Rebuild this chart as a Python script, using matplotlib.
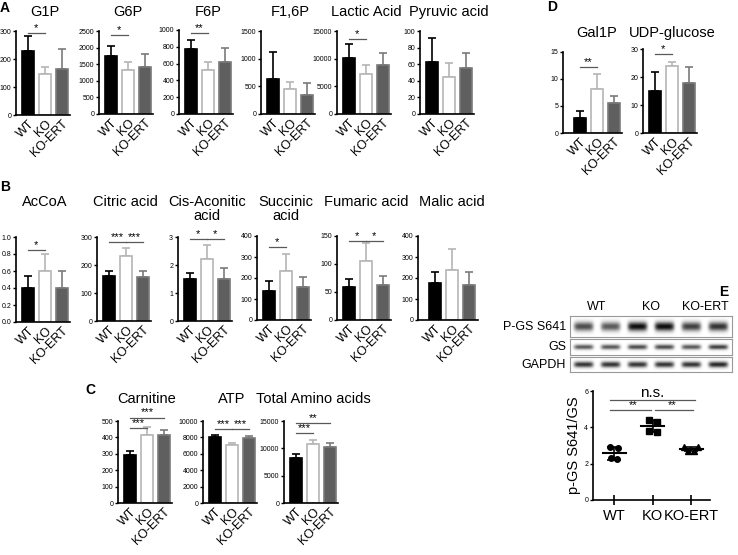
import numpy as np
import matplotlib
matplotlib.use("Agg")
import matplotlib.pyplot as plt
from matplotlib.transforms import blended_transform_factory, ScaledTranslation

plt.rcParams.update({"font.family": ["Liberation Sans", "DejaVu Sans"],
                     "axes.linewidth": 1.2})

W, H = 738, 555

groups = ["WT", "KO", "KO-ERT"]

# ── A: glycolysis ────────────────────────────────────────────────
g1p, g1p_sd = [228, 145, 165], [55, 28, 72]
g6p, g6p_sd = [1760, 1330, 1410], [280, 230, 390]
f6p, f6p_sd = [775, 525, 620], [105, 95, 160]
f16p, f16p_sd = [630, 460, 350], [490, 120, 210]
lactic, lactic_sd = [10200, 7300, 8800], [2500, 1500, 2300]
pyruvic, pyruvic_sd = [63, 45, 55], [28, 17, 18]

# ── B: TCA ───────────────────────────────────────────────────────
accoa, accoa_sd = [0.40, 0.60, 0.40], [0.14, 0.20, 0.20]
citric, citric_sd = [160, 232, 158], [20, 27, 22]
cisacon, cisacon_sd = [1.5, 2.2, 1.5], [0.2, 0.5, 0.4]
succinic, succinic_sd = [140, 232, 155], [45, 83, 52]
fumaric, fumaric_sd = [59, 106, 62], [15, 31, 17]
malic, malic_sd = [175, 240, 167], [52, 100, 60]

# ── C ────────────────────────────────────────────────────────────
carnitine, carnitine_sd = [290, 415, 413], [30, 50, 30]
atp, atp_sd = [8100, 7100, 7900], [250, 250, 250]
amino, amino_sd = [8200, 10800, 10200], [800, 800, 700]

# ── D ────────────────────────────────────────────────────────────
gal1p, gal1p_sd = [2.8, 8.1, 5.5], [1.2, 2.8, 1.3]
udpg, udpg_sd = [15.0, 23.8, 17.9], [6.7, 1.4, 5.8]

# significance brackets: (group a, group b, height, label)
g1p_sig = [(0, 1, 292, "*")]
g6p_sig = [(0, 1, 2390, "*")]
f6p_sig = [(0, 1, 965, "**")]
lactic_sig = [(0, 1, 13600, "*")]
accoa_sig = [(0, 1, 0.85, "*")]
citric_sig = [(0, 1, 281, "***"), (1, 2, 281, "***")]
cisacon_sig = [(0, 1, 2.94, "*"), (1, 2, 2.94, "*")]
succinic_sig = [(0, 1, 348, "*")]
fumaric_sig = [(0, 1, 141, "*"), (1, 2, 141, "*")]
carnitine_sig = [(0, 1, 457, "***"), (0, 2, 521, "***")]
atp_sig = [(0, 1, 8980, "***"), (1, 2, 8980, "***")]
amino_sig = [(0, 1, 12830, "***"), (0, 2, 14700, "**")]
gal1p_sig = [(0, 1, 12.3, "**")]
udpg_sig = [(0, 1, 28.2, "*")]

# ── E: western blot + quantification ────────────────────────────
blot_rows = ["P-GS S641", "GS", "GAPDH"]
pgs_band = [0.70, 0.65, 0.95, 0.95, 0.75, 0.80]
gs_band = [0.65, 0.65, 0.70, 0.70, 0.65, 0.75]
gapdh_band = [0.80, 0.80, 0.80, 0.80, 0.80, 0.85]
e_wt = [2.90, 2.85, 2.30, 2.25]
e_ko = [4.42, 4.27, 3.78, 3.76]
e_ert = [2.90, 2.90, 2.72, 2.72]
e_sig = [(0, 1, 4.96, "**"), (1, 2, 4.96, "**"), (0, 2, 5.52, "n.s.")]

FILL = ["black", "white", "#5f5f5f"]
EDGE = ["black", "#b5b5b5", "#7a7a7a"]
SIGC = "0.35"
PPU = 17  # px per bar slot

fig = plt.figure(figsize=(W / 100, H / 100), dpi=100)


def box(x0, y0, x1, y1):
    return [x0 / W, 1 - y1 / H, (x1 - x0) / W, (y1 - y0) / H]


def bar_panel(x0, yt, yb, vals, sds, yticks, title, ty, sig=(), xl=-0.7, xr=2.5):
    ax = fig.add_axes(box(x0, yt, x0 + (xr - xl) * PPU, yb))
    x = np.arange(3)
    ax.bar(x, vals, width=0.75, color=FILL, edgecolor=EDGE, linewidth=1.2, zorder=2)
    for i in range(3):
        ax.errorbar(x[i], vals[i], yerr=[[0], [sds[i]]], color=EDGE[i],
                    capsize=3, lw=1.2, capthick=1.2, zorder=1)
    for a, b, h, lab in sig:
        ax.plot([a, b], [h, h], color=SIGC, lw=0.9, clip_on=False)
        ax.text((a + b) / 2, h, lab, ha="center", va="bottom", fontsize=8)
    ax.set_xlim(xl, xr)
    ax.set_ylim(0, yticks[-1])
    ax.set_yticks(yticks)
    ax.set_xticks(x)
    ax.set_xticklabels(groups, rotation=45, ha="right", rotation_mode="anchor", fontsize=9)
    ax.tick_params(axis="x", length=0, pad=2)
    ax.tick_params(axis="y", labelsize=5, length=2.5, width=1, pad=1)
    for s in ("top", "right"):
        ax.spines[s].set_visible(False)
    tr = blended_transform_factory(ax.transData, fig.transFigure)
    ax.text(1, 1 - ty / H, title, transform=tr, ha="center", va="center",
            fontsize=10.5, linespacing=1.0)
    return ax


# row A
bar_panel(16, 31, 115, g1p, g1p_sd, [0, 100, 200, 300], "G1P", 12, g1p_sig)
bar_panel(99, 31, 114, g6p, g6p_sd, [0, 500, 1000, 1500, 2000, 2500], "G6P", 12, g6p_sig)
bar_panel(179, 30, 114, f6p, f6p_sd, [0, 200, 400, 600, 800, 1000], "F6P", 12, f6p_sig)
bar_panel(261, 31, 114, f16p, f16p_sd, [0, 500, 1000, 1500], "F1,6P", 12)
bar_panel(337, 31, 114, lactic, lactic_sd, [0, 5000, 10000, 15000], "Lactic Acid", 12, lactic_sig)
bar_panel(420, 31, 114, pyruvic, pyruvic_sd, [0, 20, 40, 60, 80, 100], "Pyruvic acid", 12)

# row B
bar_panel(16, 237, 322, accoa, accoa_sd, [0.0, 0.2, 0.4, 0.6, 0.8, 1.0], "AcCoA", 202, accoa_sig)
bar_panel(97, 237, 321, citric, citric_sd, [0, 100, 200, 300], "Citric acid", 202, citric_sig)
bar_panel(178, 237, 321, cisacon, cisacon_sd, [0, 1, 2, 3], "Cis-Aconitic\nacid", 209.5, cisacon_sig)
bar_panel(257, 236, 320, succinic, succinic_sd, [0, 100, 200, 300, 400], "Succinic\nacid", 209.5, succinic_sig)
bar_panel(337, 236, 320, fumaric, fumaric_sd, [0, 50, 100, 150], "Fumaric acid", 202, fumaric_sig)
bar_panel(418, 236, 320, malic, malic_sd, [0, 100, 200, 300, 400], "Malic acid", 202, xl=-1.0)

# row C
bar_panel(118, 421, 503, carnitine, carnitine_sd, [0, 100, 200, 300, 400, 500], "Carnitine", 399, carnitine_sig)
bar_panel(203, 421, 503, atp, atp_sd, [0, 2000, 4000, 6000, 8000, 10000], "ATP", 399, atp_sig)
bar_panel(284, 421, 503, amino, amino_sd, [0, 5000, 10000, 15000], "Total Amino acids", 399, amino_sig)

# D
bar_panel(563, 52, 133, gal1p, gal1p_sd, [0, 5, 10, 15], "Gal1P", 33, gal1p_sig, xl=-1.0, xr=2.45)
bar_panel(643, 49, 133, udpg, udpg_sd, [0, 10, 20, 30], "UDP-glucose", 33, udpg_sig)

# ── E blot ──
row_px = [(316, 337), (339, 355), (357, 372)]
bands = [pgs_band, gs_band, gapdh_band]
band_h = [0.22, 0.16, 0.2]
bx0, bx1 = 570, 732
for (y0, y1), lab, inten, bh in zip(row_px, blot_rows, bands, band_h):
    ax = fig.add_axes(box(bx0, y0, bx1, y1))
    xx = np.linspace(0, 6, 300)
    yy = np.linspace(0, 1, 40)
    X, Y = np.meshgrid(xx, yy)
    img = np.zeros_like(X)
    for i, v in enumerate(inten):
        gx = np.exp(-((X - (i + 0.5)) / 0.36) ** 6)
        gy = np.exp(-((Y - 0.5) / bh) ** 2)
        img += v * gx * gy
    ax.imshow(1 - np.clip(img, 0, 1), cmap="gray", vmin=0, vmax=1,
              aspect="auto", extent=(0, 6, 1, 0))
    ax.set_xticks([])
    ax.set_yticks([])
    for s in ax.spines.values():
        s.set_color("0.6")
        s.set_linewidth(0.8)
    fig.text((bx0 - 4) / W, 1 - (y0 + y1) / 2 / H, lab, ha="right", va="center", fontsize=9)

lane_w = (bx1 - bx0) / 6
for i, g in enumerate(groups):
    fig.text((bx0 + lane_w * (2 * i + 1)) / W, 1 - 307 / H, g, ha="center", va="center", fontsize=9)

# ── E quantification ──
ax = fig.add_axes(box(593, 391, 710, 500))
pts = [e_wt, e_ko, e_ert]
offs = [[-0.11, 0.11, -0.08, 0.08], [-0.1, 0.1, -0.1, 0.1], [-0.18, 0.18, -0.07, 0.07]]
marks = ["o", "s", "^"]
for i, (p, o, m) in enumerate(zip(pts, offs, marks)):
    ax.plot(i + np.array(o), p, m, color="black", ms=4, ls="none", zorder=3)
    mu, sd = np.mean(p), np.std(p, ddof=1)
    ax.plot([i - 0.3, i + 0.3], [mu, mu], color="black", lw=1.5)
    ax.errorbar(i, mu, yerr=sd, color="black", capsize=5, lw=1.2, capthick=1.2)
for a, b, h, lab in e_sig:
    if lab == "n.s.":
        xs = [a - 0.1, b + 0.1]
    elif a == 0:
        xs = [a - 0.1, b - 0.05]
    else:
        xs = [a + 0.05, b + 0.05]
    ax.plot(xs, [h, h], color=SIGC, lw=0.9, clip_on=False)
    ax.text((a + b) / 2, h, lab, ha="center", va="bottom",
            fontsize=11 if lab == "n.s." else 8)
ax.set_xlim(-0.55, 2.49)
ax.set_ylim(0, 6)
ax.set_yticks([0, 2, 4, 6])
ax.set_xticks([0, 1, 2])
ax.set_xticklabels(groups, fontsize=10.5)
for lbl, dx in zip(ax.get_xticklabels(), [-3, 2, 6]):
    lbl.set_transform(lbl.get_transform() + ScaledTranslation(dx / 100, 0, fig.dpi_scale_trans))
ax.tick_params(axis="x", direction="inout", length=7, width=1.2, pad=3)
ax.tick_params(axis="y", labelsize=5, length=2.5, width=1, pad=1)
for s in ("top", "right"):
    ax.spines[s].set_visible(False)
ax.set_ylabel("p-GS S641/GS", fontsize=10.5, labelpad=2)

# panel letters
for lab, (lx, ly) in zip("ABCDE", [(5, 8), (5, 187), (90, 390), (552, 7), (724, 292)]):
    fig.text(lx / W, 1 - ly / H, lab, fontsize=10, fontweight="bold", va="center", ha="center")

fig.savefig("out.png", dpi=100)
